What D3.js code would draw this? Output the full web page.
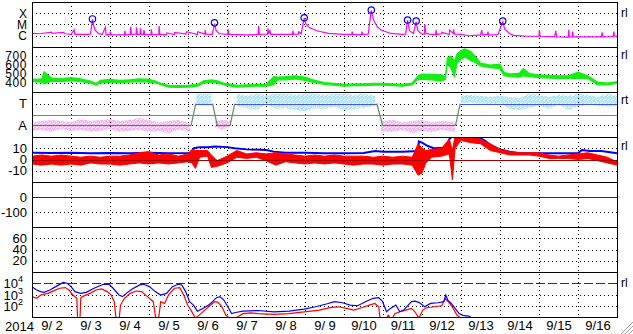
<!DOCTYPE html>
<html>
<head>
<meta charset="utf-8">
<script src="https://cdn.jsdelivr.net/npm/d3@7"></script>
<style>
  body { margin: 0; background: #fff; }
  svg text { font-family: "Liberation Sans", Arial, sans-serif; fill: #000; }
</style>
</head>
<body>
<svg id="chart" width="633" height="334"></svg>
<script>
// ---- data (days counted from 2014-09-02 00:00 UT) ----
const dayLabels = ["9/ 2", "9/ 3", "9/ 4", "9/ 5", "9/ 6", "9/ 7", "9/ 8", "9/ 9",
  "9/10", "9/11", "9/12", "9/13", "9/14", "9/15", "9/16"];
const xrayLabels = ["X", "M", "C"];
const xrayLabelValues = [100, 10, 1];          // in units of C1 (1e-6 W/m2)
const speedTicks = [700, 600, 500, 400];
const sectorLabels = ["T", "A"];
const bTicks = [10, 0, -10];
const dstTicks = [0, -100];
const kpTicks = [60, 40, 20];
const electronTicks = [4, 3, 2];               // powers of ten

// X-ray flux [day, flux in C units]
const xray = [[0,1.6],[0.2,1.5],[0.5,2.1],[0.52,1.6],[0.8,2.0],[0.85,1.5],[1.0,1.3],[1.08,3.5],[1.1,1.3],
  [1.45,1.3],[1.5,1.4],[1.55,29],[1.58,8],[1.62,3.2],[1.7,1.6],[1.8,1.3],[1.88,5.6],[1.9,1.2],[2.0,1.3],
  [2.01,2.3],[2.03,1.2],[2.37,1.2],[2.38,2.8],[2.4,1.2],[2.52,1.3],[2.53,6.4],[2.55,1.3],[2.67,1.4],
  [2.68,5.6],[2.7,1.3],[2.77,1.4],[2.78,4.5],[2.8,1.3],[2.86,1.3],[2.87,3.2],[2.89,1.3],[3.05,1.2],
  [3.06,3.7],[3.08,1.2],[3.25,1.3],[3.26,7.3],[3.28,1.3],[3.45,1.2],[3.46,1.8],[3.65,1.3],[3.66,2.0],
  [3.95,1.4],[3.96,2.3],[4.24,1.3],[4.25,2.3],[4.43,1.4],[4.44,3.2],[4.46,1.4],[4.62,1.3],[4.68,12],
  [4.72,3],[4.8,1.5],[5.02,1.3],[5.03,3.7],[5.05,1.3],[5.5,1.2],[5.8,1.3],[5.81,7.3],[5.83,1.3],
  [6.04,1.4],[6.05,4.5],[6.07,1.5],[6.1,3.2],[6.12,1.3],[6.68,1.3],[6.69,2.8],[6.71,1.3],[6.83,1.4],
  [6.84,2.3],[6.9,1.5],[6.98,38],[7.02,12],[7.1,5.6],[7.3,2.8],[7.6,1.6],[8.0,1.3],[8.2,1.3],[8.21,2.3],
  [8.23,1.3],[8.45,1.2],[8.46,2.3],[8.48,1.3],[8.62,1.4],[8.7,180],[8.76,25],[8.85,6.4],[8.95,3.2],
  [9.2,1.6],[9.5,1.3],[9.58,1.4],[9.63,24],[9.68,2.8],[9.78,1.6],[9.85,18],[9.89,3],[9.98,1.5],
  [10.06,1.4],[10.07,11],[10.1,1.6],[10.2,1.4],[10.35,1.2],[10.36,3.2],[10.38,1.3],[10.5,1.5],
  [10.51,2.0],[10.7,1.3],[10.71,3.2],[10.8,1.6],[10.81,3.7],[10.83,1.4],[11.0,1.3],[11.2,1.0],
  [11.5,1.2],[11.53,3.2],[11.55,1.2],[11.68,1.3],[11.69,2.3],[11.71,1.2],[11.9,1.2],[11.95,1.3],
  [12.07,18],[12.12,4],[12.25,1.5],[12.35,1.1],[12.7,0.9],[13.0,0.9],[13.01,3.2],[13.03,0.9],
  [13.4,0.8],[13.43,2.8],[13.45,0.8],[13.75,0.75],[13.76,3.2],[13.78,0.8],[13.85,0.8],[13.86,2.3],
  [13.88,0.8],[14.3,0.8],[14.6,0.8],[14.62,2.0],[14.64,0.8],[14.9,0.85],[14.92,2.3],[14.94,0.9],[15,0.9]];

// flare peaks marked with circles [day, flux in C units]
const flares = [[1.55,31],[4.68,14],[6.98,40],[8.7,195],[9.63,25],[9.85,20],[12.07,20]];

// solar wind speed [day, low, high] km/s
const speed = [[0,415,440],[0.25,410,445],[0.31,390,525],[0.5,420,455],[0.75,415,450],[1.0,425,460],
  [1.25,415,445],[1.5,400,420],[1.65,375,395],[1.75,405,430],[2.0,410,440],[2.25,405,430],[2.5,410,435],
  [2.75,415,445],[3.0,410,440],[3.15,400,425],[3.25,390,405],[3.5,355,375],[3.75,350,370],[4.0,355,375],
  [4.25,365,385],[4.4,400,425],[4.6,410,435],[4.75,400,425],[4.95,375,395],[5.25,355,375],[5.5,360,380],
  [5.75,365,385],[6.0,365,385],[6.2,380,470],[6.3,435,465],[6.5,435,470],[6.75,445,480],[7.0,430,465],
  [7.25,405,430],[7.5,385,405],[7.75,375,395],[8.0,365,385],[8.25,370,390],[8.5,370,390],[8.75,375,395],
  [9.0,375,395],[9.25,370,390],[9.5,365,385],[9.75,380,400],[9.9,440,480],[10.0,440,500],[10.25,435,495],
  [10.5,420,490],[10.6,440,470],[10.65,620,680],[10.75,560,700],[10.83,470,640],[10.9,620,720],
  [11.0,660,760],[11.1,690,780],[11.25,650,750],[11.4,620,680],[11.5,590,620],[11.75,570,600],
  [12.0,560,610],[12.1,480,520],[12.25,470,500],[12.5,465,510],[12.6,480,560],[12.75,470,505],
  [13.0,460,490],[13.25,455,485],[13.5,450,480],[13.75,450,480],[14.0,455,520],[14.25,450,480],
  [14.5,380,410],[14.75,380,400],[15.0,395,415]];

// sector polarity: [start day, end day, "A"/"T"]
const sectors = [[0,4.08,"A"],[4.2,4.63,"T"],[4.75,5.08,"A"],[5.2,8.84,"T"],[8.99,10.86,"A"],[10.98,15,"T"]];

// IMF direction scatter, away (-1) and toward (+1): [day, low, high], null = gap
const awayBand = [[0,-1.5,-0.7],[0.25,-1.4,-0.6],[0.5,-1.6,-0.5],[0.75,-1.3,-0.6],[1.0,-1.5,-0.7],
  [1.25,-1.4,-0.4],[1.5,-1.6,-0.6],[1.75,-1.5,-0.5],[2.0,-1.3,-0.4],[2.25,-1.6,-0.6],[2.5,-1.5,-0.5],
  [2.75,-1.4,-0.3],[3.0,-1.6,-0.5],[3.25,-1.5,-0.7],[3.5,-1.7,-0.6],[3.75,-1.4,-0.5],[4.05,-1.5,-0.8],
  null,[4.7,-1.2,-0.6],[4.9,-1.4,-0.5],[5.1,-1.0,-0.6],null,
  [8.95,-1.5,-0.6],[9.25,-1.6,-0.5],[9.5,-1.4,-0.7],[9.75,-1.7,-0.6],[10.0,-1.5,-0.5],[10.25,-1.6,-0.7],
  [10.5,-1.4,-0.6],[10.85,-1.6,-0.7]];
const towardBand = [[4.2,0.9,1.9],[4.6,1.0,1.9],null,
  [5.25,0.8,1.9],[5.5,0.6,1.7],[5.75,0.4,1.9],[6.0,0.9,1.8],[6.25,0.5,1.9],[6.5,0.6,1.9],[6.75,0.4,1.8],
  [7.0,0.3,1.9],[7.25,0.6,1.9],[7.5,0.5,1.8],[7.75,0.7,1.9],[8.0,0.4,1.9],[8.25,0.5,1.8],[8.5,0.6,1.9],
  [8.8,0.8,1.7],null,
  [11.0,1.0,1.7],[11.25,1.1,1.8],[11.5,1.0,1.7],[11.75,0.9,1.6],[12.0,1.0,1.7],[12.25,0.5,1.6],
  [12.5,0.4,1.5],[12.75,0.6,1.9],[13.0,0.8,1.8],[13.25,0.5,1.6],[13.5,0.9,1.8],[13.75,0.4,1.7],
  [14.0,0.7,1.9],[14.25,0.9,1.8],[14.5,0.8,1.6],[14.75,0.7,1.9],[15.0,0.8,1.7]];

// IMF Bt [day, nT]
const bt = [[0,6],[0.5,5.8],[1,6],[1.5,5.5],[2,5.8],[2.5,5.5],[3,6],[3.5,5.5],[4.0,5.8],[4.1,6],[4.15,10],
  [4.3,11],[4.5,11],[4.7,11.5],[5.0,11],[5.2,10],[5.5,9],[6.0,8.5],[6.2,7],[6.5,6],[7,6],[7.5,5.5],[8,5.5],
  [8.5,5.8],[8.8,7.5],[9.0,7],[9.5,7],[9.9,7.5],[9.92,16],[10.0,15],[10.15,12],[10.3,10],[10.6,10.5],
  [10.7,18],[10.78,21],[11,21],[11.3,21],[11.5,19],[11.6,17],[11.75,13],[12,9],[12.25,7],[12.5,5.5],
  [13,5.5],[13.5,5.5],[14,5.5],[14.1,8.5],[14.3,7.5],[14.6,7.5],[15,5.5]];

// IMF Bz range [day, low, high] nT
const bz = [[0,-4,3],[0.25,-5,4],[0.5,-4,3],[0.75,-5,4],[1.0,-4,3],[1.25,-5,2],[1.5,-3,3],[1.75,-4,2],
  [2.0,-4,3],[2.25,-5,3],[2.5,-4,4],[2.75,-3,6],[3.0,-4,7],[3.25,-3,4],[3.5,-4,5],[3.75,-3,3],[4.0,-2,5],
  [4.1,-3,9],[4.19,-8,8],[4.3,2,8],[4.5,3,8],[4.6,-7,4],[4.75,-6,-1],[5.0,-3,3],[5.25,2,8],[5.5,1,5],
  [5.75,2,6],[6.0,-1,5],[6.25,-5,6],[6.5,-2,5],[6.75,-3,4],[7.0,-4,3],[7.25,-3,4],[7.5,-4,3],[7.75,-3,4],
  [8.0,-4,3],[8.25,-5,3],[8.5,-4,3],[8.75,-4,2],[9.0,-5,3],[9.25,-4,2],[9.5,-4,3],[9.75,-5,2],
  [9.9,-14,14],[10.0,-12,10],[10.1,-3,8],[10.25,2,9],[10.5,3,10],[10.7,5,18],[10.78,-18,8],
  [10.85,10,21],[11.0,17,21],[11.25,15,21],[11.5,14,18],[11.75,8,14],[12.0,6,9],[12.25,4,7],[12.5,4,6],
  [12.75,4,6],[13.0,3,6],[13.25,1,4],[13.5,1,3],[13.75,1,4],[14.0,0,5],[14.25,1,6],[14.5,-1,4],
  [14.75,-3,2],[15.0,-5,-2]];

// electron flux [day, flux]
const electronBlue = [[0,5000],[0.12,2500],[0.22,1800],[0.31,1550],[0.46,2500],[0.61,5000],[0.80,12000],
  [0.90,10000],[1.0,5000],[1.10,1800],[1.25,1260],[1.39,1550],[1.59,3600],[1.83,8100],[1.98,8100],
  [2.08,3600],[2.23,900],[2.32,650],[2.42,1260],[2.57,3100],[2.76,7100],[2.86,8100],[3.01,5000],
  [3.16,1800],[3.30,900],[3.45,1260],[3.60,5000],[3.75,8100],[3.84,7100],[3.94,1800],[4.04,230],
  [4.14,115],[4.24,33],[4.38,58],[4.53,115],[4.63,230],[4.73,520],[4.82,650],[4.92,320],[5.02,81],
  [5.12,20],[5.22,25],[5.41,33],[5.80,38],[6.20,29],[6.59,33],[6.98,50],[7.27,81],[7.57,150],[7.76,230],
  [7.96,185],[8.16,115],[8.35,100],[8.55,230],[8.75,460],[8.89,520],[8.99,230],[9.09,29],[9.19,58],
  [9.33,115],[9.43,29],[9.53,41],[9.73,230],[9.82,260],[9.92,200],[10.07,81],[10.22,160],[10.41,185],
  [10.56,230],[10.61,900],[10.66,320],[10.75,160],[10.85,58],[10.95,20],[11.05,14],[11.20,12],[11.29,8]];
const electronRed = [[0,650],[0.12,460],[0.22,900],[0.41,1260],[0.51,1800],[0.71,3600],[0.85,4100],
  [0.95,2500],[1.05,900],[1.15,460],[1.17,5],[1.23,5],[1.25,460],[1.29,650],[1.49,1260],[1.64,2500],
  [1.78,3100],[1.93,1800],[2.03,900],[2.11,230],[2.16,5],[2.23,5],[2.27,115],[2.37,460],[2.52,1260],
  [2.67,2050],[2.81,1800],[2.96,650],[3.11,230],[3.18,5],[3.24,5],[3.30,230],[3.40,160],[3.50,900],
  [3.65,3600],[3.79,4100],[3.89,900],[3.99,115],[4.09,33],[4.19,8],[4.28,14],[4.43,41],[4.58,115],
  [4.68,230],[4.77,200],[4.87,81],[4.97,14],[5.07,8],[5.22,8],[5.41,20],[5.61,23],[5.80,20],[6.20,17],
  [6.59,20],[6.98,29],[7.37,41],[7.67,71],[7.86,81],[8.06,58],[8.25,41],[8.45,66],[8.65,115],[8.79,160],
  [8.89,81],[8.93,5],[9.04,5],[9.14,14],[9.22,5],[9.30,20],[9.43,29],[9.58,41],[9.73,58],[9.82,29],
  [9.92,8],[10.02,41],[10.12,66],[10.31,81],[10.51,100],[10.59,460],[10.71,160],[10.80,58],[10.90,14],
  [11.0,8]];

// ---- layout ----
const t0 = Date.UTC(2014, 8, 2);
const T = d => new Date(t0 + d * 864e5);
const L = 32, R = 617;
const tops = [2, 47, 92, 137, 182, 227, 272];
const PH = 45, B = 317;

const svg = d3.select("#chart");
const x = d3.scaleUtc().domain([T(0), T(15)]).range([L, R]);

const y1 = d3.scaleLog().domain([0.1, 1000]).range([tops[0] + PH, tops[0]]);
const y2 = d3.scaleLinear().domain([300, 800]).range([tops[1] + PH, tops[1]]);
const y3 = d3.scaleLinear().domain([-2.05, 2.05]).range([tops[2] + PH, tops[2]]);
const y4 = d3.scaleLinear().domain([-20, 20]).range([tops[3] + PH, tops[3]]);
const y5 = d3.scaleLinear().domain([-200, 100]).range([tops[4] + PH, tops[4]]);
const y6 = d3.scaleLinear().domain([0, 80]).range([tops[5] + PH, tops[5]]);
const y7 = d3.scaleLog().domain([10, 1e5]).range([tops[6] + PH, tops[6]]);

const defs = svg.append("defs");
tops.forEach((top, i) => {
  defs.append("clipPath").attr("id", "clip" + i)
    .append("rect").attr("x", L).attr("y", top).attr("width", R - L).attr("height", PH);
});
// speckled fills for the direction scatter
function speckle(id, color) {
  const p = defs.append("pattern").attr("id", id)
    .attr("width", 4).attr("height", 4).attr("patternUnits", "userSpaceOnUse");
  [[0, 0, 3, 1], [1, 1, 3, 1], [0, 2, 2, 1], [2, 3, 2, 1], [3, 2, 1, 1]].forEach(r =>
    p.append("rect").attr("x", r[0]).attr("y", r[1]).attr("width", r[2]).attr("height", r[3])
      .attr("fill", color));
}
speckle("awayFill", "#f4b0f0");
speckle("towardFill", "#a8e2f8");

const layer = i => svg.append("g").attr("clip-path", `url(#clip${i})`);

// horizontal dotted grid
function hgrid(y, vals) {
  svg.append("g").selectAll("line").data(vals).join("line")
    .attr("x1", L).attr("x2", R)
    .attr("y1", d => Math.round(y(d)) + 0.5).attr("y2", d => Math.round(y(d)) + 0.5)
    .attr("stroke", "#000").attr("stroke-dasharray", "1,3");
}
hgrid(y1, xrayLabelValues);
hgrid(y2, speedTicks);
hgrid(y3, [1, -1]);
hgrid(y4, [10, -10]);
hgrid(y5, [-100]);
hgrid(y6, kpTicks);
hgrid(y7, [1e3, 1e2]);

// vertical dotted day grid
svg.append("g").selectAll("line").data(d3.range(1, 15)).join("line")
  .attr("x1", d => Math.round(x(T(d))) + 0.5).attr("x2", d => Math.round(x(T(d))) + 0.5)
  .attr("y1", tops[0]).attr("y2", B)
  .attr("stroke", "#000").attr("stroke-dasharray", "1,3");

// reference lines
const refLine = (y, v, color, dash) => svg.append("line")
  .attr("x1", L).attr("x2", R)
  .attr("y1", Math.round(y(v)) + 0.5).attr("y2", Math.round(y(v)) + 0.5)
  .attr("stroke", color).attr("stroke-dasharray", dash || null);

// ---- panel 1: X-ray ----
const g1 = layer(0);
g1.append("path").datum(xray)
  .attr("d", d3.line().x(d => x(T(d[0]))).y(d => y1(d[1])))
  .attr("fill", "none").attr("stroke", "#ff00ff").attr("stroke-width", 1.2);
g1.selectAll("circle").data(flares).join("circle")
  .attr("cx", d => x(T(d[0]))).attr("cy", d => y1(d[1])).attr("r", 3.2)
  .attr("fill", "none").attr("stroke", "#0000ff").attr("stroke-width", 1.2);

// ---- panel 2: solar wind speed ----
const g2 = layer(1);
g2.append("path").datum(speed)
  .attr("d", d3.area().x(d => x(T(d[0]))).y0(d => y2(d[1])).y1(d => y2(d[2])))
  .attr("fill", "#14ee14").attr("stroke", "#14ee14").attr("stroke-width", 1.2);

// ---- panel 3: sector polarity ----
const g3 = layer(2);
const band = d3.area().defined(d => d).x(d => x(T(d[0]))).y0(d => y3(d[1])).y1(d => y3(d[2]));
g3.append("path").datum(awayBand).attr("d", band).attr("fill", "url(#awayFill)");
g3.append("path").datum(towardBand).attr("d", band).attr("fill", "url(#towardFill)");
refLine(y3, 0, "#808080");
const lvl = p => p === "T" ? 1 : -1;
sectors.forEach((s, i) => {
  g3.append("line")
    .attr("x1", x(T(s[0]))).attr("x2", x(T(s[1])))
    .attr("y1", Math.round(y3(lvl(s[2]))) + 0.5).attr("y2", Math.round(y3(lvl(s[2]))) + 0.5)
    .attr("stroke", s[2] === "T" ? "#3c5ae6" : "#dc3c46").attr("stroke-width", 1.2);
  const n = sectors[i + 1];
  if (n) {
    g3.append("line")
      .attr("x1", x(T(s[1]))).attr("x2", x(T(n[0])))
      .attr("y1", y3(lvl(s[2]))).attr("y2", y3(lvl(n[2])))
      .attr("stroke", "#5f8c5f").attr("stroke-width", 1.2);
  }
});

// ---- panel 4: IMF ----
const g4 = layer(3);
refLine(y4, 0, "#a00000");
g4.append("path").datum(bt)
  .attr("d", d3.line().x(d => x(T(d[0]))).y(d => y4(d[1])))
  .attr("fill", "none").attr("stroke", "#0000ff").attr("stroke-width", 2);
g4.append("path").datum(bz)
  .attr("d", d3.area().x(d => x(T(d[0]))).y0(d => y4(d[1])).y1(d => y4(d[2])))
  .attr("fill", "#ff0000").attr("stroke", "#ff0000").attr("stroke-width", 1);

// ---- panel 5 / 6: no data ----
refLine(y5, 0, "#a00000");

// ---- panel 7: electrons ----
const g7 = layer(6);
refLine(y7, 1e4, "#a00000", "9,3");
const eLine = d3.line().x(d => x(T(d[0]))).y(d => y7(d[1]));
g7.append("path").datum(electronRed).attr("d", eLine)
  .attr("fill", "none").attr("stroke", "#ff0000").attr("stroke-width", 1.2);
g7.append("path").datum(electronBlue).attr("d", eLine)
  .attr("fill", "none").attr("stroke", "#0000ff").attr("stroke-width", 1.2);

// ---- frames ----
svg.append("g").selectAll("line").data(tops.concat([B])).join("line")
  .attr("x1", L).attr("x2", R + 1).attr("y1", d => d + 0.5).attr("y2", d => d + 0.5)
  .attr("stroke", "#000");
[L, R].forEach(v => svg.append("line")
  .attr("x1", v + 0.5).attr("x2", v + 0.5).attr("y1", tops[0]).attr("y2", B + 1)
  .attr("stroke", "#000"));

// ---- left labels ----
function leftAxis(y, vals, fmt, size) {
  const g = svg.append("g").attr("transform", `translate(${L},0)`)
    .call(d3.axisLeft(y).tickValues(vals).tickFormat(fmt).tickSize(0).tickPadding(5));
  g.attr("font-size", size || 13).attr("font-family", "Liberation Sans, Arial, sans-serif");
  g.select(".domain").remove();
  return g;
}
leftAxis(y1, xrayLabelValues, (d, i) => xrayLabels[i], 12);
leftAxis(y2, speedTicks, d => d, 12).selectAll("text").attr("letter-spacing", 0.6);
leftAxis(y3, [1, -1], (d, i) => sectorLabels[i]);
leftAxis(y4, bTicks, d => d);
leftAxis(y5, dstTicks, d => d);
leftAxis(y6, kpTicks, d => d);

const eLab = svg.append("g").selectAll("text").data(electronTicks).join("text")
  .attr("x", 23).attr("y", d => y7(Math.pow(10, d)) + 5)
  .attr("text-anchor", "end").attr("font-size", 13);
eLab.append("tspan").text("10");
eLab.append("tspan").attr("dy", -6).attr("font-size", 9).text(d => d);

// right labels
const rightLabels = [["rl", 13], ["rl", 55], ["rt", 100], ["rl", 146], ["rl", 283]];
svg.append("g").selectAll("text").data(rightLabels).join("text")
  .attr("x", 621).attr("y", d => d[1] + 4).attr("font-size", 12).text(d => d[0]);

// ---- x axis ----
const xa = svg.append("g").attr("transform", `translate(0,${B})`)
  .call(d3.axisBottom(x).tickValues(d3.range(15).map(d => T(d + 0.5)))
    .tickFormat((d, i) => dayLabels[i]).tickSize(0).tickPadding(4));
xa.attr("font-size", 13).attr("font-family", "Liberation Sans, Arial, sans-serif");
xa.select(".domain").remove();
xa.selectAll("text").style("white-space", "pre");
svg.append("text").attr("x", 5).attr("y", 331).attr("font-size", 13).text("2014");

// resize grip
svg.append("g").selectAll("line").data([12, 8, 4]).join("line")
  .attr("x1", d => 633 - d).attr("y1", 334).attr("x2", 633).attr("y2", d => 334 - d)
  .attr("stroke", "#999");
</script>
</body>
</html>
